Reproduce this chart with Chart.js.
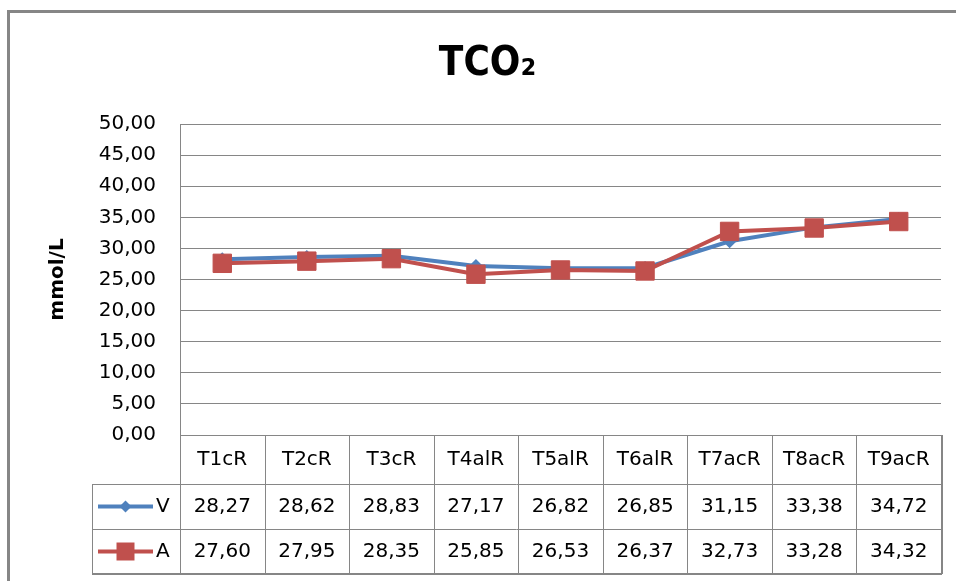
<!DOCTYPE html>
<html>
<head>
<meta charset="utf-8">
<script src="https://cdn.jsdelivr.net/npm/chart.js@4/dist/chart.umd.min.js"></script>
<style>
  html, body { margin: 0; padding: 0; background: #fff; }
  #wrap { width: 956px; height: 581px; position: relative; }
</style>
</head>
<body>
<div id="wrap"><canvas id="chart"></canvas></div>
<script>
// Data
const categories = ['T1cR', 'T2cR', 'T3cR', 'T4alR', 'T5alR', 'T6alR', 'T7acR', 'T8acR', 'T9acR'];
const valuesV = [28.27, 28.62, 28.83, 27.17, 26.82, 26.85, 31.15, 33.38, 34.72];
const valuesA = [27.60, 27.95, 28.35, 25.85, 26.53, 26.37, 32.73, 33.28, 34.32];
const seriesNames = ['V', 'A'];

const BLUE = '#4F81BD';
const RED = '#C0504D';
const GRID = '#868686';
const FONT = '"DejaVu Sans", sans-serif';

// format numbers with a decimal comma
function fmt(v) {
    return v.toFixed(2).replace('.', ',');
}

// gray frame at the top and left of the picture
const framePlugin = {
    id: 'frame',
    beforeDraw(chart) {
        const ctx = chart.ctx;
        ctx.save();
        ctx.strokeStyle = GRID;
        ctx.lineWidth = 3;
        ctx.lineCap = 'butt';
        ctx.beginPath();
        ctx.moveTo(8.5, chart.height);
        ctx.lineTo(8.5, 11.5);
        ctx.lineTo(chart.width + 2, 11.5);
        ctx.stroke();
        ctx.restore();
    }
};

// data table under the plot, columns follow the category scale
const tablePlugin = {
    id: 'dataTable',
    afterDraw(chart) {
        const ctx = chart.ctx;
        const x = chart.scales.x;
        const area = chart.chartArea;
        const half = (x.getPixelForValue(1) - x.getPixelForValue(0)) / 2;
        const left = area.left, right = area.right;
        const legendLeft = 92;
        const y0 = area.bottom;
        const y1 = y0 + 49;
        const y2 = y1 + 45;
        const y3 = y2 + 45;

        ctx.save();
        ctx.strokeStyle = GRID;
        ctx.lineWidth = 1;
        ctx.beginPath();
        // horizontal lines
        ctx.moveTo(left, y0 + 0.5); ctx.lineTo(right, y0 + 0.5);
        [y1, y2].forEach(y => { ctx.moveTo(legendLeft, y + 0.5); ctx.lineTo(right, y + 0.5); });
        // vertical lines
        ctx.moveTo(legendLeft + 0.5, y1); ctx.lineTo(legendLeft + 0.5, y3);
        ctx.moveTo(left + 0.5, y0); ctx.lineTo(left + 0.5, y3);
        categories.forEach((c, i) => {
            if (i === categories.length - 1) return;
            const xr = Math.round(x.getPixelForValue(i) + half) + 0.5;
            ctx.moveTo(xr, y0); ctx.lineTo(xr, y3);
        });
        ctx.stroke();
        // outer right and bottom edges a bit heavier
        ctx.lineWidth = 2;
        ctx.beginPath();
        ctx.moveTo(legendLeft, y3); ctx.lineTo(right + 1, y3);
        ctx.moveTo(right + 1, y0); ctx.lineTo(right + 1, y3);
        ctx.stroke();

        ctx.fillStyle = '#000';
        ctx.font = '20px ' + FONT;
        ctx.textAlign = 'center';
        ctx.textBaseline = 'middle';
        categories.forEach((c, i) => {
            const cx = x.getPixelForValue(i);
            ctx.fillText(c, cx, (y0 + y1) / 2);
            ctx.fillText(fmt(valuesV[i]), cx, (y1 + y2) / 2);
            ctx.fillText(fmt(valuesA[i]), cx, (y2 + y3) / 2);
        });

        // legend keys
        const keys = [
            { name: seriesNames[0], color: BLUE, y: (y1 + y2) / 2, shape: 'diamond' },
            { name: seriesNames[1], color: RED, y: (y2 + y3) / 2, shape: 'square' }
        ];
        keys.forEach(k => {
            ctx.strokeStyle = k.color;
            ctx.fillStyle = k.color;
            ctx.lineWidth = 4;
            ctx.beginPath();
            ctx.moveTo(98, k.y); ctx.lineTo(153, k.y);
            ctx.stroke();
            const mx = 125.5;
            ctx.beginPath();
            if (k.shape === 'diamond') {
                ctx.moveTo(mx, k.y - 6); ctx.lineTo(mx + 6, k.y);
                ctx.lineTo(mx, k.y + 6); ctx.lineTo(mx - 6, k.y);
                ctx.closePath();
            } else {
                ctx.rect(mx - 9, k.y - 9, 18, 18);
            }
            ctx.fill();
            ctx.fillStyle = '#000';
            ctx.textAlign = 'left';
            ctx.fillText(k.name, 156, k.y);
        });
        ctx.restore();
    }
};

const ctx = document.getElementById('chart');
new Chart(ctx, {
    type: 'line',
    data: {
        labels: categories,
        datasets: [
            {
                label: seriesNames[0],
                data: valuesV,
                borderColor: BLUE,
                backgroundColor: BLUE,
                borderWidth: 4,
                pointStyle: 'rectRot',
                pointRadius: 7,
                pointBorderWidth: 0,
                tension: 0,
                order: 1
            },
            {
                label: seriesNames[1],
                data: valuesA,
                borderColor: RED,
                backgroundColor: RED,
                borderWidth: 4,
                pointStyle: 'rect',
                pointRadius: 13,
                pointBorderWidth: 1,
                tension: 0,
                order: 0
            }
        ]
    },
    options: {
        responsive: true,
        maintainAspectRatio: false,
        animation: false,
        layout: { padding: { left: 34, top: 12, right: 15, bottom: 146 } },
        plugins: {
            legend: { display: false },
            tooltip: { enabled: false },
            title: {
                display: true,
                text: 'TCO₂',
                color: '#000',
                font: { family: '"Liberation Sans Narrow", "DejaVu Sans Condensed", "Liberation Sans", sans-serif', size: 40, weight: 'bold', lineHeight: 1.2 },
                padding: { top: 29, bottom: 35 }
            }
        },
        scales: {
            x: {
                display: false,
                offset: true,
                grid: { display: false }
            },
            y: {
                min: 0,
                max: 50,
                afterFit(scale) { scale.width = 146; },
                ticks: {
                    stepSize: 5,
                    color: '#000',
                    padding: 24,
                    font: { family: FONT, size: 20 },
                    callback: v => fmt(v)
                },
                grid: { color: GRID, lineWidth: 1, drawTicks: false },
                border: { display: true, color: GRID, width: 1 },
                title: {
                    display: true,
                    text: 'mmol/L',
                    color: '#000',
                    font: { family: FONT, size: 20, weight: 'bold' },
                    padding: { top: 12 }
                }
            }
        }
    },
    plugins: [framePlugin, tablePlugin]
});
</script>
</body>
</html>
